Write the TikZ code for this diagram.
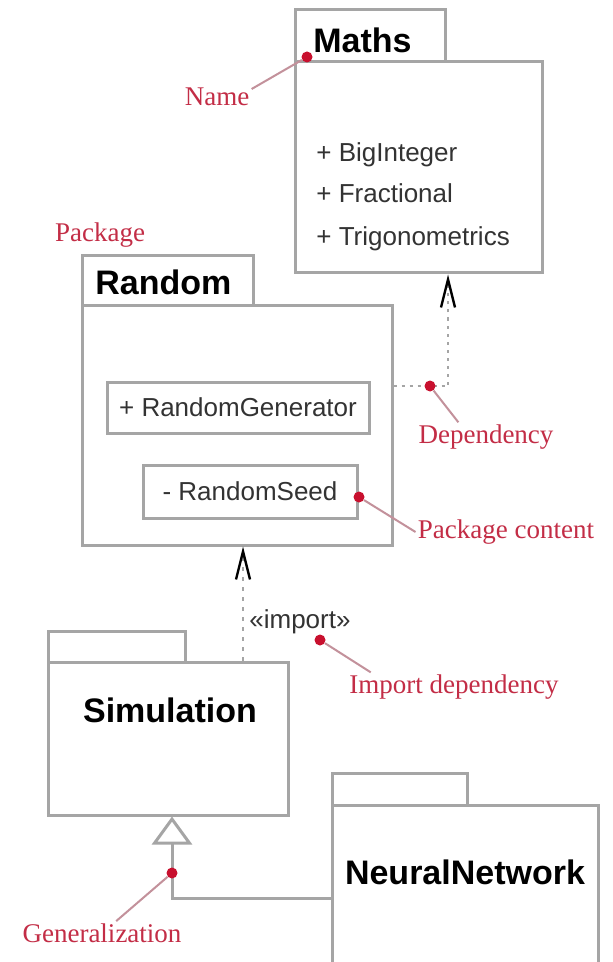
\documentclass[tikz,border=0pt]{standalone}
\usepackage{fontspec}
\setmainfont{Liberation Serif}
\setsansfont{Liberation Sans}
\usetikzlibrary{arrows.meta,fit}

\definecolor{boxgray}{RGB}{165,165,165}
\definecolor{notered}{RGB}{195,45,70}
\definecolor{dotred}{RGB}{200,16,46}
\definecolor{leadergray}{RGB}{195,145,155}

\begin{document}
\begin{tikzpicture}[x=0.5pt,y=-0.5pt,
  pkg/.style={draw=boxgray, line width=1.5pt, inner sep=0pt},
  title/.style={inner sep=0pt, font=\sffamily\bfseries\fontsize{17}{20}\selectfont},
  entry/.style={inner sep=0pt, anchor=base west, text=black!80, font=\sffamily\fontsize{13}{15}\selectfont},
  memtext/.style={inner sep=0pt, text=black!80, font=\sffamily\fontsize{13}{15}\selectfont},
  note/.style={inner sep=1pt, text=notered, font=\fontsize{13.5}{16}\selectfont},
  dot/.style={circle, fill=dotred, inner sep=0pt, minimum size=5.5pt},
  leader/.style={draw=leadergray, line width=1pt},
  depend/.style={draw=boxgray, line width=1.2pt, dash pattern=on 1.5pt off 2.5pt,
    -{Straight Barb[length=14pt,width=7pt,line width=1.2pt,color=black]}},
  importdep/.style={draw=boxgray, line width=1.2pt, dash pattern=on 2pt off 3pt,
    -{Straight Barb[length=14pt,width=7pt,line width=1.2pt,color=black]}},
  general/.style={draw=boxgray, line width=1.5pt,
    -{Triangle[length=14pt,width=20pt,fill=white]}}]
%\draw[help lines, color=gray!30, dashed] (0,0) grid[step=50] (613,962);
\fill[white] (0,0) rectangle (613,962);
\useasboundingbox (0,0) rectangle (613,962);

% packages
\node[pkg, fit={(295,10) (445,62)}] (mathstab) {};
\node[pkg, fit={(295,62) (542,273)}] (maths) {};
\node[title, anchor=west] (mathsname) at (313,40) {Maths};
\node[entry] (bigint) at (316,162) {+ BigInteger};
\node[entry] (fractional) at (316,203) {+ Fractional};
\node[entry] (trig) at (316,246) {+ Trigonometrics};

\node[pkg, fit={(82,256) (253,306)}] (randomtab) {};
\node[pkg, fit={(82,306) (392,545)}] (random) {};
\node[title, anchor=west] (randomname) at (95,282) {Random};
\node[pkg, fit={(107,382) (369,433)}] (generator) {};
\node[memtext] (genname) at (generator.center) {+ RandomGenerator};
\node[pkg, fit={(143,465) (357,518)}] (seed) {};
\node[memtext] (seedname) at (seed.center) {- RandomSeed};

\node[pkg, fit={(48,631) (185,662)}] (simtab) {};
\node[pkg, fit={(48,662) (288,815)}] (simulation) {};
\node[title] (simname) at (170,710) {Simulation};

\node[pkg, fit={(332,773) (467,805)}] (neuraltab) {};
\node[pkg, fit={(332,805) (598,975)}] (neural) {};
\node[title] (neuralname) at (465,872) {NeuralNetwork};

% relations
\coordinate (depbend) at (448,386);
\draw[depend] (random.east |- depbend) -- (depbend) -- (depbend |- maths.south);
\coordinate (impx) at (243,600);
\draw[importdep] (simulation.north -| impx) -- (random.south -| impx);
\node[entry, anchor=west] (importlbl) at (249,622) {«import»};
\coordinate (genbend) at (172,898);
\draw[general] (neural.west |- genbend) -- (genbend) -- (genbend |- simulation.south);

% annotations
\node[note] (namelbl) at (217,97) {Name};
\node[note] (pkglbl) at (100,235) {Package};
\node[note] (deplbl) at (486,437) {Dependency};
\node[note] (contentlbl) at (506,532) {Package content};
\node[note] (importnote) at (454,687) {Import dependency};
\node[note] (genlbl) at (102,933) {Generalization};
\node[dot] (namedot) at (307,57) {};
\node[dot] (depdot) at (430,386) {};
\node[dot] (contentdot) at (359,497) {};
\node[dot] (importdot) at (320,640) {};
\node[dot] (gendot) at (172,873) {};
\draw[leader] (namelbl.13) -- (namedot);
\draw[leader] (deplbl.152) -- (depdot);
\draw[leader] (contentlbl.west) -- (contentdot);
\draw[leader] (importnote.170) -- (importdot);
\draw[leader] (genlbl.40) -- (gendot);
\end{tikzpicture}
\end{document}
